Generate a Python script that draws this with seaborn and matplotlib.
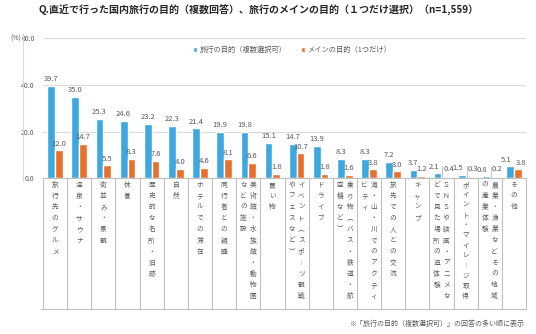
import numpy as np
import pandas as pd
import seaborn as sns
import matplotlib.pyplot as plt
import matplotlib.transforms as mtrans
from matplotlib.lines import Line2D
from matplotlib.patches import Patch

# ---- data ----
categories = [
    "旅行先のグルメ", "温泉・サウナ", "街並み・景観", "休養", "歴史的な名所・旧跡",
    "自然", "ホテルでの滞在", "同行者との親睦", "美術館・水族館・動物園などの施設", "買い物",
    "イベント（スポーツ観戦やフェスなど）", "ドライブ", "乗り物（バス・鉄道・航空機など）",
    "海・山・川でのアクティビティ", "旅先での人との交流", "キャンプ",
    "ＳＮＳや映画・アニメなどで見た場所の追体験", "ポイント・マイレージ取得",
    "農業・漁業などその地域の産業体験", "その他",
]
multi_purpose = [39.7, 35.0, 25.3, 24.6, 23.2, 22.3, 21.4, 19.9, 19.8, 15.1,
                 14.7, 13.9, 8.3, 8.3, 7.2, 3.7, 2.1, 1.5, 0.8, 5.1]
main_purpose = [12.0, 14.7, 5.5, 8.3, 7.6, 4.0, 4.6, 8.1, 6.6, 1.8,
                10.7, 1.8, 1.6, 3.8, 3.0, 1.2, 0.4, 0.3, 0.2, 3.8]
series_names = ["旅行の目的（複数選択可）", "メインの目的（1つだけ）"]
y_ticks = [0, 20, 40, 60]

title = "Q.直近で行った国内旅行の目的（複数回答）、旅行のメインの目的（１つだけ選択）（n=1,559）"
footnote = "※「旅行の目的（複数選択可）」の回答の多い順に表示"

BLUE = "#3DA8E0"
ORANGE = "#E8702B"
GRAY = "#595959"
GRID = "#D9D9D9"

sns.set_theme(style="white")
plt.rcParams['font.family'] = ['Noto Sans CJK JP', 'DejaVu Sans']

df = pd.DataFrame({
    "cat": categories * 2,
    "val": multi_purpose + main_purpose,
    "series": [series_names[0]] * len(categories) + [series_names[1]] * len(categories),
})

W, H = 536, 334
fig = plt.figure(figsize=(W / 100, H / 100), dpi=100)
ax = fig.add_axes([43 / W, (H - 178.3) / H, 483 / W, 140 / H])

sns.barplot(data=df, x="cat", y="val", hue="series", order=categories,
            hue_order=series_names, palette=[BLUE, ORANGE], width=0.64,
            errorbar=None, legend=False, saturation=1, ax=ax)

ax.set_xlim(-0.5, len(categories) - 0.5)
ax.set_ylim(0, 60)
ax.set_yticks(y_ticks)
ax.set_yticklabels([f"{v:.1f}" for v in y_ticks], fontsize=5.0, color=GRAY)
ax.set_xticks([])
ax.set_xlabel("")
ax.set_ylabel("")
ax.tick_params(axis="y", length=0, pad=6)
ax.yaxis.grid(True, color=GRID, linewidth=0.8)
ax.set_axisbelow(True)
for s in ["top", "right", "left"]:
    ax.spines[s].set_visible(False)
ax.spines["bottom"].set_color("#BFBFBF")
ax.spines["bottom"].set_linewidth(0.8)

# value labels (nudged apart where blue/orange labels would collide)
PAD = 2.0
for k, cont in enumerate(ax.containers):
    texts = ax.bar_label(cont, fmt="%.1f", padding=PAD, fontsize=5.5, color=GRAY)
    for i, t in enumerate(texts):
        if abs(multi_purpose[i] - main_purpose[i]) < 2.0:
            dx = -2.6 if k == 0 else 2.6
            dy = PAD + (1.5 if (k == 1 and main_purpose[i] < 1) else 0)
            t.xyann = (dx, dy)

# leader lines for tiny orange values
for patch, v in zip(ax.containers[1].patches, main_purpose):
    if v < 1:
        x0 = patch.get_x() + 0.04
        ax.plot([x0, x0], [v + 0.3, v + 4.8], color="#A6A6A6", lw=0.5)

# category separators & vertical labels
tr = mtrans.blended_transform_factory(ax.transData, fig.transFigure)
y_top_pix, y_bot_pix = 178.3, 309.0
for b in np.arange(-0.5, len(categories), 1.0):
    fig.add_artist(Line2D([b, b], [1 - y_top_pix / H, 1 - y_bot_pix / H],
                          transform=tr, color="#BFBFBF", lw=0.8))
fig.add_artist(Line2D([-0.6, len(categories) - 0.5], [1 - y_bot_pix / H] * 2,
                      transform=tr, color="#BFBFBF", lw=0.8))

vmap = {"（": "︵", "）": "︶", "ー": "︱"}
step = 11.1
first_y = 185.0
maxlen = 11


def draw_column(xc, text):
    n = len(text)
    sp = step if n <= maxlen else step * (maxlen - 1) / (n - 1)
    for j, ch in enumerate(text):
        ypix = first_y + j * sp
        ax.text(xc, 1 - ypix / H, vmap.get(ch, ch), transform=tr,
                ha="center", va="center", fontsize=4.8, color=GRAY,
                clip_on=False)


for i, cat in enumerate(categories):
    if len(cat) <= 12:
        draw_column(i, cat)
    else:
        draw_column(i + 0.2, cat[:maxlen])
        draw_column(i - 0.2, cat[maxlen:])

# title, unit, legend, footnote
fig.text(259 / W, 1 - 10 / H, title, ha="center", va="center",
         fontsize=7.2, fontweight="bold", color="#262626")
fig.text(10 / W, 1 - 38.5 / H, "(%)", ha="left", va="center", fontsize=5.0, color=GRAY)
fig.add_artist(Line2D([22.5 / W, 22.5 / W], [1 - 33 / H, 1 - 181 / H],
                      color="#D9D9D9", lw=0.8))

handles = [Patch(facecolor=BLUE), Patch(facecolor=ORANGE)]
fig.legend(handles, series_names, loc="center", bbox_to_anchor=(292 / W, 1 - 50 / H),
           ncol=2, frameon=False, fontsize=5.2, handlelength=0.6, handleheight=0.6,
           handletextpad=0.3, columnspacing=2.0, labelcolor=GRAY)

fig.text(524 / W, 1 - 324 / H, footnote, ha="right", va="center", fontsize=5.0, color=GRAY)

fig.savefig("out.png", dpi=100)
